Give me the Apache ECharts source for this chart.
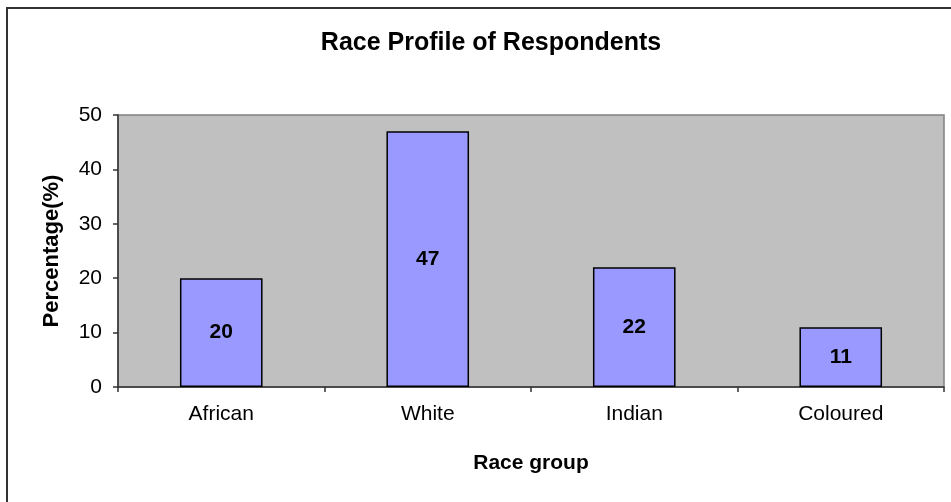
<!DOCTYPE html>
<html>
<head>
<meta charset="utf-8">
<script src="https://cdn.jsdelivr.net/npm/echarts@6/dist/echarts.min.js"></script>
<style>
  html, body { margin: 0; padding: 0; background: #ffffff; }
  #chart { width: 951px; height: 502px; }
</style>
</head>
<body>
<div id="chart"></div>
<script>
// Race profile data (percent of respondents)
const categories = ['African', 'White', 'Indian', 'Coloured'];
const percentages = [20, 47, 22, 11];
const yTicks = { min: 0, max: 50, interval: 10 };

const FONT = '"Liberation Sans", Arial, sans-serif';

const chart = echarts.init(document.getElementById('chart'), null, { renderer: 'canvas' });

chart.setOption({
  backgroundColor: '#ffffff',
  animation: false,
  title: {
    text: 'Race Profile of Respondents',
    left: 486,
    textAlign: 'center',
    top: 26,
    textStyle: { fontFamily: FONT, fontSize: 25, fontWeight: 'bold', color: '#000' }
  },
  graphic: [{
    type: 'rect',
    shape: { x: 7, y: 8, width: 1000, height: 600 },
    style: { fill: 'none', stroke: '#333333', lineWidth: 2 },
    silent: true,
    z: 100
  }],
  grid: {
    left: 118, right: 7, top: 115, bottom: 115,
    show: true,
    backgroundColor: '#c0c0c0',
    borderColor: '#808080',
    borderWidth: 1.5
  },
  xAxis: {
    type: 'category',
    data: categories,
    name: 'Race group',
    nameLocation: 'middle',
    nameGap: 66,
    nameTextStyle: { fontFamily: FONT, fontSize: 21, fontWeight: 'bold', color: '#000' },
    axisLine: { lineStyle: { color: '#333', width: 1.5 } },
    axisTick: { show: true, length: 5, lineStyle: { color: '#333', width: 1.5 } },
    axisLabel: { margin: 17, fontFamily: FONT, fontSize: 21, color: '#000' },
    splitLine: { show: false }
  },
  yAxis: {
    type: 'value',
    min: yTicks.min, max: yTicks.max, interval: yTicks.interval,
    name: 'Percentage(%)',
    nameLocation: 'middle',
    nameGap: 55,
    nameRotate: 90,
    nameTextStyle: { fontFamily: FONT, fontSize: 22, fontWeight: 'bold', color: '#000' },
    axisLine: { show: true, lineStyle: { color: '#333', width: 1.5 } },
    axisTick: { show: true, length: 5, lineStyle: { color: '#333', width: 1.5 } },
    axisLabel: { margin: 16, fontFamily: FONT, fontSize: 21, color: '#000' },
    splitLine: { show: false }
  },
  series: [{
    type: 'bar',
    data: percentages,
    barWidth: '40%',
    itemStyle: { color: '#9999ff', borderColor: '#000', borderWidth: 1.5 },
    label: {
      show: true,
      position: 'inside',
      fontFamily: FONT,
      fontSize: 21,
      fontWeight: 'bold',
      color: '#000'
    }
  }]
});
</script>
</body>
</html>
